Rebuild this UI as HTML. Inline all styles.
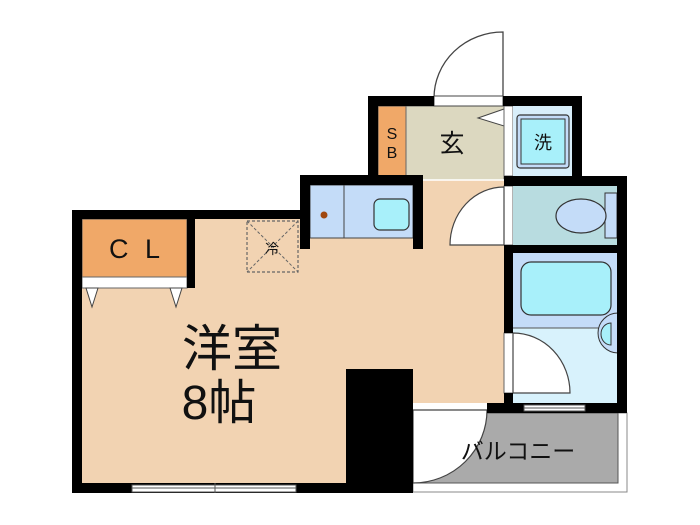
<!DOCTYPE html>
<html><head><meta charset="utf-8"><style>
html,body{margin:0;padding:0;background:#fff;}
svg{display:block;}
text{font-family:"Liberation Sans","Noto Sans CJK JP",sans-serif;fill:#111;}
</style></head><body>
<svg width="700" height="525" viewBox="0 0 700 525" xmlns="http://www.w3.org/2000/svg">
<!-- floors -->
<rect x="82" y="219" width="422" height="184" fill="#f2d3b2"/>
<rect x="82" y="400" width="331" height="83" fill="#f2d3b2"/>
<rect x="305" y="180" width="199" height="45" fill="#f2d3b2"/>
<rect x="82" y="219" width="105" height="58" fill="#f0a868" stroke="#555" stroke-width="1"/>
<rect x="82" y="277" width="105" height="11" fill="#fff" stroke="#666" stroke-width="1"/>
<polygon points="86,288 98,288 92,307" fill="#fff" stroke="#444" stroke-width="1"/>
<polygon points="170,288 182,288 176,307" fill="#fff" stroke="#444" stroke-width="1"/>
<text x="109" y="258" font-size="27">C</text>
<text x="145" y="258" font-size="27">L</text>
<!-- fridge -->
<rect x="247" y="221" width="51" height="51" fill="none" stroke="#666" stroke-width="1.2" stroke-dasharray="3,2"/>
<line x1="247" y1="221" x2="298" y2="272" stroke="#666" stroke-dasharray="3,2"/>
<line x1="298" y1="221" x2="247" y2="272" stroke="#666" stroke-dasharray="3,2"/>
<text x="272" y="254" font-size="14" text-anchor="middle">冷</text>
<!-- kitchen -->
<rect x="310" y="185" width="103" height="53" fill="#c4dcf8" stroke="#444" stroke-width="1"/>
<line x1="344" y1="185" x2="344" y2="238" stroke="#444"/>
<rect x="374" y="199" width="35" height="31" rx="6" fill="#a8f0fa" stroke="#333" stroke-width="1.2"/>
<circle cx="324" cy="215" r="3.5" fill="#a04810"/>
<!-- entrance -->
<rect x="378" y="106" width="28" height="70" fill="#f0a868" stroke="#555"/>
<text x="392" y="139" font-size="16" text-anchor="middle">S</text>
<text x="392" y="158" font-size="16" text-anchor="middle">B</text>
<rect x="406" y="106" width="98" height="74" fill="#dcd8c0" stroke="#666" stroke-width="1"/>
<polygon points="504,109 478,118 504,126" fill="#fff" stroke="#444"/>
<text x="452" y="152" font-size="25" text-anchor="middle">玄</text>
<rect x="504" y="106" width="9" height="70" fill="#fff" stroke="#666"/>
<rect x="513" y="106" width="59" height="70" fill="#d8eefa"/>
<rect x="517" y="115" width="52" height="53" rx="3" fill="#c4dcf8" stroke="#333" stroke-width="1.2"/>
<rect x="521" y="119" width="44" height="45" fill="#a8f0fa" stroke="#333" stroke-width="1"/>
<text x="543" y="149" font-size="18" text-anchor="middle">洗</text>
<!-- outside door -->
<path d="M434,98 A69,66 0 0 1 503,32 L503,98" fill="#fff" stroke="#444" stroke-width="1.3"/>
<rect x="434" y="96" width="69" height="10" fill="#fff" stroke="#444" stroke-width="1"/>
<!-- toilet -->
<rect x="504" y="186" width="9" height="59" fill="#fff" stroke="#666"/>
<rect x="513" y="186" width="104" height="59" fill="#b8dce0"/>
<rect x="605" y="193" width="12" height="45" fill="#c4dcf8" stroke="#333"/>
<ellipse cx="581" cy="216" rx="25" ry="17" fill="#c4dcf8" stroke="#333" stroke-width="1.2"/>
<path d="M450,245 A54,58 0 0 1 504,187 L504,245 Z" fill="#fff" stroke="#444" stroke-width="1.2"/>
<!-- bath -->
<rect x="513" y="253" width="105" height="75" fill="#c4dcf8"/>
<rect x="513" y="328" width="105" height="75" fill="#d8f2fc"/>
<line x1="513" y1="328" x2="618" y2="328" stroke="#555"/>
<rect x="521" y="262" width="90" height="53" rx="10" fill="#a8f0fa" stroke="#333" stroke-width="1.2"/>
<path d="M618,313 A20,20 0 0 0 618,353 Z" fill="#c4dcf8" stroke="#333"/>
<path d="M611,323 A10,11 0 0 0 611,345 Z" fill="#a8f0fa" stroke="#333"/>
<rect x="504" y="333" width="9" height="60" fill="#fff" stroke="#666"/>
<path d="M513,333 A57,60 0 0 1 570,393 L513,393 Z" fill="#fff" stroke="#444" stroke-width="1.2"/>
<!-- balcony -->
<rect x="413" y="413" width="214" height="79" fill="#fff" stroke="#888" stroke-width="1"/>
<rect x="413" y="413" width="205" height="70" fill="#aaa" stroke="#555" stroke-width="1"/>
<path d="M413,410 L487,410 A74,73 0 0 1 413,483 Z" fill="#fff" stroke="#444" stroke-width="1.2"/>
<text x="518" y="459" font-size="23" text-anchor="middle">バルコニー</text>
<!-- walls -->
<g fill="#000">
<rect x="72" y="210" width="238" height="9"/>
<rect x="72" y="210" width="10" height="283"/>
<rect x="187" y="219" width="8" height="69"/>
<rect x="72" y="483" width="341" height="10"/>
<rect x="300" y="175" width="123" height="10"/>
<rect x="300" y="175" width="10" height="74"/>
<rect x="413" y="175" width="10" height="74"/>
<rect x="368" y="96" width="66" height="10"/>
<rect x="368" y="96" width="10" height="80"/>
<rect x="503" y="96" width="79" height="10"/>
<rect x="572" y="96" width="10" height="80"/>
<rect x="504" y="176" width="123" height="10"/>
<rect x="617" y="176" width="10" height="237"/>
<rect x="504" y="245" width="123" height="8"/>
<rect x="504" y="253" width="9" height="80"/>
<rect x="504" y="393" width="9" height="10"/>
<rect x="487" y="403" width="140" height="10"/>
<rect x="346" y="369" width="67" height="124"/>
</g>
<line x1="423" y1="180" x2="504" y2="180" stroke="#fff" stroke-width="1.5"/>
<!-- windows -->
<rect x="132" y="485" width="164" height="7" fill="#fff" stroke="#555"/>
<line x1="132" y1="488" x2="296" y2="488" stroke="#555"/>
<line x1="215" y1="483" x2="215" y2="493" stroke="#555"/>
<rect x="524" y="405" width="61" height="6" fill="#fff" stroke="#555"/>
<line x1="524" y1="408" x2="585" y2="408" stroke="#555"/>
<text x="232" y="366" font-size="50" text-anchor="middle">洋室</text>
<text x="219" y="419" font-size="48" text-anchor="middle">8帖</text>
</svg>
</body></html>
